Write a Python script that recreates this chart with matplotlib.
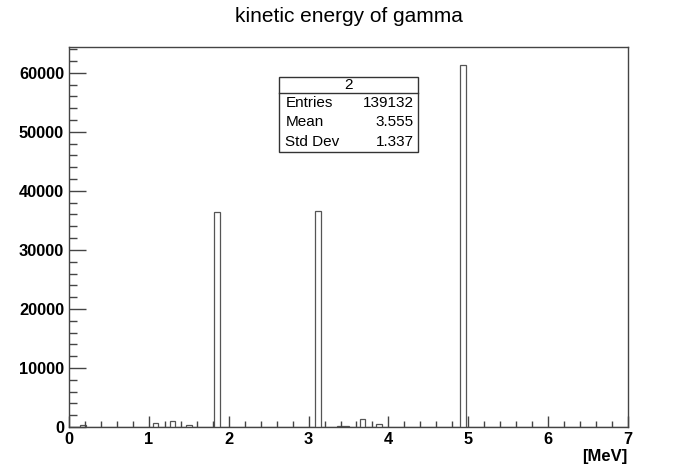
import numpy as np
import matplotlib
matplotlib.use('Agg')
import matplotlib.pyplot as plt
from matplotlib.ticker import MultipleLocator

plt.rcParams['font.family'] = ['Liberation Sans', 'DejaVu Sans']

# histogram: 100 bins from 0 to 7 MeV, only non-empty bins listed
n_bins = 100
x_min, x_max = 0.0, 7.0
bin_low = [0.14, 1.05, 1.26, 1.47, 1.82, 3.08, 3.36, 3.43, 3.64, 3.85, 4.90]
bin_count = [380, 620, 950, 330, 36500, 36650, 200, 200, 1350, 520, 61350]

stat_name = ['Entries', 'Mean', 'Std Dev']
stat_value = ['139132', '3.555', '1.337']
hist_name = '2'

edges = np.linspace(x_min, x_max, n_bins + 1)
counts = np.zeros(n_bins)
width = (x_max - x_min) / n_bins
for lo, c in zip(bin_low, bin_count):
    counts[int(round((lo - x_min) / width))] = c

fig = plt.figure(figsize=(6.98, 4.75), dpi=100)
ax = fig.add_axes([69 / 698, 1 - 427 / 475, 559 / 698, 380.3 / 475])

ax.stairs(counts, edges, color='#555555', lw=0.9)

ax.set_xlim(x_min, x_max)
ax.set_ylim(0, counts.max() * 1.05)

line_col = '#444444'
for s in ax.spines.values():
    s.set_color(line_col)
    s.set_linewidth(1.0)

ax.xaxis.set_major_locator(MultipleLocator(1))
ax.xaxis.set_minor_locator(MultipleLocator(0.2))
ax.yaxis.set_major_locator(MultipleLocator(10000))
ax.yaxis.set_minor_locator(MultipleLocator(2000))

ax.tick_params(axis='x', which='major', direction='in', length=8.2, width=1,
               color=line_col, pad=3.5, labelsize=11.8)
ax.tick_params(axis='x', which='minor', direction='in', length=4.1, width=1,
               color=line_col)
ax.tick_params(axis='y', which='major', direction='in', length=12.1, width=1,
               color=line_col, pad=3.5, labelsize=11.8)
ax.tick_params(axis='y', which='minor', direction='in', length=6.0, width=1,
               color=line_col)
for lab in ax.get_xticklabels() + ax.get_yticklabels():
    lab.set_fontweight('bold')

fig.text(0.5, 1 - 17 / 475, 'kinetic energy of gamma', ha='center', va='center',
         fontsize=15)
fig.text(627 / 698, 1 - 456 / 475, '[MeV]', ha='right', va='center',
         fontsize=12, fontweight='bold')

# statistics box
bx0, bx1 = 279.3 / 698, 417.7 / 698
by_top, by_sep, by_bot = 1 - 76.7 / 475, 1 - 92.7 / 475, 1 - 151.7 / 475
box = plt.Rectangle((bx0, by_bot), bx1 - bx0, by_top - by_bot, transform=fig.transFigure,
                    facecolor='white', edgecolor='#333333', lw=1.0, zorder=5)
fig.add_artist(box)
fig.add_artist(plt.Line2D([bx0, bx1], [by_sep, by_sep], transform=fig.transFigure,
                          color='#333333', lw=1.0, zorder=6))
fig.text((bx0 + bx1) / 2, (by_top + by_sep) / 2, hist_name, ha='center', va='center',
         fontsize=11, zorder=7)
row_h = (by_sep - by_bot) / len(stat_name)
for i, (n, v) in enumerate(zip(stat_name, stat_value)):
    yy = by_sep - (i + 0.5) * row_h
    fig.text(bx0 + 6 / 698, yy, n, ha='left', va='center', fontsize=11, zorder=7)
    fig.text(bx1 - 4 / 698, yy, v, ha='right', va='center', fontsize=11, zorder=7)

fig.savefig('out.png', dpi=100)
